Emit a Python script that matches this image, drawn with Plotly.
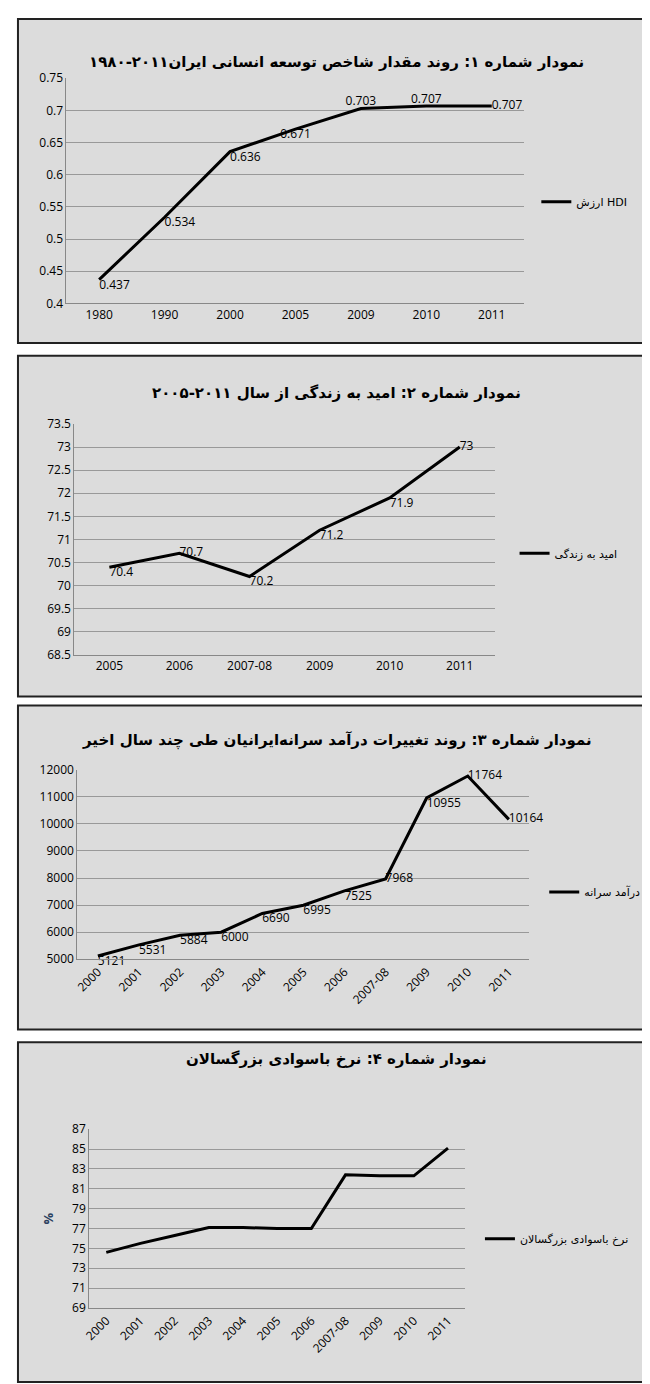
import plotly.graph_objects as go

# chart 1: HDI
hdi_years = ["1980", "1990", "2000", "2005", "2009", "2010", "2011"]
hdi_vals = [0.437, 0.534, 0.636, 0.671, 0.703, 0.707, 0.707]
hdi_pos = ["bottom right", "bottom right", "bottom right", "bottom center", "top center", "top center", "middle right"]

# chart 2: life expectancy
life_years = ["2005", "2006", "2007-08", "2009", "2010", "2011"]
life_vals = [70.4, 70.7, 70.2, 71.2, 71.9, 73]
life_pos = ["bottom right", "middle right", "bottom right", "bottom right", "bottom right", "middle right"]

# chart 3: income per capita
inc_years = ["2000", "2001", "2002", "2003", "2004", "2005", "2006", "2007-08", "2009", "2010", "2011"]
inc_vals = [5121, 5531, 5884, 6000, 6690, 6995, 7525, 7968, 10955, 11764, 10164]
inc_pos = ["bottom right"] * 7 + ["middle right", "bottom right", "middle right", "middle right"]

# chart 4: adult literacy
lit_years = ["2000", "2001", "2002", "2003", "2004", "2005", "2006", "2007-08", "2009", "2010", "2011"]
lit_vals = [74.6, 75.5, 76.3, 77.1, 77.1, 77.0, 77.0, 82.4, 82.3, 82.3, 85.1]

W, H = 650, 1384
def px(y):
    return 1 - y / H

fig = go.Figure()

fnt = "Open Sans"
tfont = dict(family="DejaVu Sans", size=15, color="black")

panels = [
    # (box y0,y1, plot x0,x1,y0,y1, title, title y, legend pos)
    (2, 330, 52, 515, 62, 290, "نمودار شماره ۱: روند مقدار شاخص توسعه انسانی ایران۲۰۱۱-۱۹۸۰", 34, (527, 187)),
    (343, 688, 60, 485, 412, 646, "نمودار شماره ۲: امید به زندگی از سال ۲۰۱۱-۲۰۰۵", 370, (505, 543)),
    (697, 1025, 63, 520, 762, 954, "نمودار شماره ۳: روند تغییرات درآمد سرانه‌ایرانیان طی چند سال اخیر", 732, (535, 886)),
    (1038, 1382, 75, 455, 1126, 1307, "نمودار شماره ۴: نرخ باسوادی بزرگسالان", 1066, (470, 1237)),
]

series = [
    (hdi_years, hdi_vals, "ارزش HDI", hdi_pos, [0.4, 0.75], 0.05, True),
    (life_years, life_vals, "امید به زندگی", life_pos, [68.5, 73.5], 0.5, True),
    (inc_years, inc_vals, "درآمد سرانه", inc_pos, [5000, 12000], 1000, True),
    (lit_years, lit_vals, "نرخ باسوادی بزرگسالان", None, [69, 87], 2, False),
]

shapes = []
annotations = []
layout_axes = {}
for i, (p, s) in enumerate(zip(panels, series)):
    by0, by1, x0, x1, y0, y1, title, ty, (lx, ly) = p
    cats, vals, name, pos, yr, dt, labels = s
    n = i + 1
    xa = "x" if n == 1 else f"x{n}"
    ya = "y" if n == 1 else f"y{n}"
    lg = "legend" if n == 1 else f"legend{n}"
    shapes.append(dict(type="rect", xref="paper", yref="paper", x0=3 / W, x1=647 / W,
                       y0=px(by1), y1=px(by0), fillcolor="#dcdcdc",
                       line=dict(color="#222", width=2), layer="below"))
    annotations.append(dict(text=f"<b>{title}</b>", xref="paper", yref="paper", x=0.5, y=px(ty),
                            showarrow=False, font=tfont))
    fig.add_trace(go.Scatter(
        x=cats, y=vals, name=name, xaxis=xa, yaxis=ya, legend=lg,
        mode="lines+text" if labels else "lines",
        text=[str(v) for v in vals] if labels else None,
        textposition=pos, textfont=dict(family=fnt, size=12, color="black"),
        line=dict(color="black", width=3), cliponaxis=False))
    rot = -45 if n >= 3 else 0
    layout_axes["xaxis" if n == 1 else f"xaxis{n}"] = dict(
        domain=[x0 / W, x1 / W], anchor=ya, type="category", range=[-0.5, len(cats) - 0.5],
        showgrid=False, showline=True, linecolor="#888", tickangle=rot,
        tickfont=dict(family=fnt, size=12, color="black"), fixedrange=True)
    layout_axes["yaxis" if n == 1 else f"yaxis{n}"] = dict(
        domain=[px(y1), px(y0)], anchor=xa, range=yr, dtick=dt, tick0=yr[0], tickformat="~r" if n != 3 else "d",
        showgrid=True, gridcolor="#999", showline=True, linecolor="#888",
        tickfont=dict(family=fnt, size=12, color="black"), zeroline=False,
        title=dict(text="<b>%</b>", font=dict(size=13)) if n == 4 else None)
    layout_axes[lg] = dict(x=lx / W, y=px(ly), xanchor="left", yanchor="middle",
                           bgcolor="rgba(0,0,0,0)", font=dict(family="DejaVu Sans", size=11, color="black"))

fig.update_layout(
    width=W, height=H, margin=dict(l=0, r=0, t=0, b=0),
    paper_bgcolor="white", plot_bgcolor="white",
    shapes=shapes, annotations=annotations, showlegend=True,
    **layout_axes)

fig.write_html("out.html")
